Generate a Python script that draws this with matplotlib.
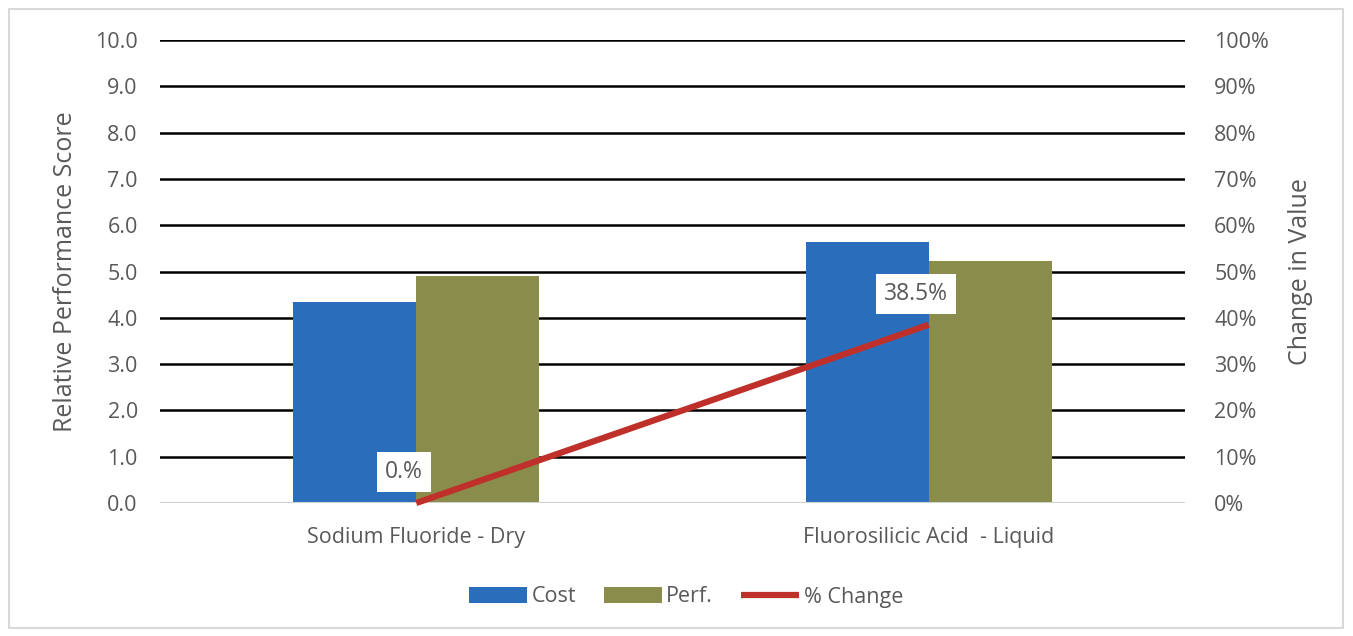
import numpy as np
import matplotlib.pyplot as plt
from matplotlib.ticker import FuncFormatter

categories = ['Sodium Fluoride - Dry', 'Fluorosilicic Acid  - Liquid']
cost = [4.34, 5.64]
perf = [4.90, 5.23]
pct_change = [0.0, 38.5]
pct_labels = ['0.%', '38.5%']

plt.rcParams['font.family'] = ['Open Sans', 'DejaVu Sans']
grey = '#595959'

fig = plt.figure(figsize=(13.53, 6.36), dpi=100)
ax = fig.add_axes([160 / 1353, 1 - 503 / 636, 1025 / 1353, 463 / 636])
ax2 = ax.twinx()

x = np.arange(len(categories))
w = 0.24
ax.bar(x - w / 2, cost, w, color='#2a6ebb', label='Cost', zorder=3)
ax.bar(x + w / 2, perf, w, color='#898c4b', label='Perf.', zorder=3)

ax.set_xlim(-0.5, 1.5)
ax.set_ylim(0, 10)
ax.set_yticks(np.arange(0, 10.1, 1))
ax.yaxis.set_major_formatter(FuncFormatter(lambda v, p: f'{v:.1f}'))
ax.set_xticks(x)
ax.set_xticklabels(categories)
for yv in np.arange(1, 10.1, 1):
    ax.axhline(yv, color='black', lw=1.8, zorder=1)
ax.axhline(0, color='#d0d0d0', lw=1.5, zorder=4)

for s in ax.spines.values():
    s.set_visible(False)
for s in ax2.spines.values():
    s.set_visible(False)
ax.tick_params(axis='both', length=0, labelsize=15.5, labelcolor=grey)
ax.tick_params(axis='y', pad=16)
ax.tick_params(axis='x', pad=17)
ax.set_ylabel('Relative Performance Score', fontsize=18, color=grey, labelpad=12)

ax2.plot(x, pct_change, color='#c0302b', lw=4.5, solid_capstyle='butt', zorder=5,
         label='% Change', clip_on=False)
ax2.set_ylim(0, 100)
ax2.set_yticks(np.arange(0, 101, 10))
ax2.yaxis.set_major_formatter(FuncFormatter(lambda v, p: f'{v:.0f}%'))
ax2.tick_params(axis='y', length=0, labelsize=15.5, labelcolor=grey, pad=21)
ax2.set_ylabel('Change in Value', fontsize=18, color=grey, labelpad=14)

# data labels for the % change line
for xi, yv, lab in zip(x, pct_change, pct_labels):
    ax2.annotate(lab, (xi, yv), xytext=(-9, 22), textcoords='offset points',
                 ha='center', va='center', fontsize=16.5, color=grey, zorder=6,
                 bbox=dict(boxstyle='square,pad=0.35', fc='white', ec='none'))

h1, l1 = ax.get_legend_handles_labels()
h2, l2 = ax2.get_legend_handles_labels()
fig.legend(h1 + h2, l1 + l2, loc='center', bbox_to_anchor=(686 / 1353, 1 - 597 / 636),
           ncol=3, frameon=False, fontsize=15.5, labelcolor=grey, handlelength=2.7,
           handleheight=0.75, handletextpad=0.2, columnspacing=1.3)

fig.patches.append(plt.Rectangle((9 / 1353, 8 / 636), 1334 / 1353, 619 / 636,
                                 transform=fig.transFigure, fill=False,
                                 ec='#d9d9d9', lw=1.5))

fig.savefig('out.png', dpi=100)
